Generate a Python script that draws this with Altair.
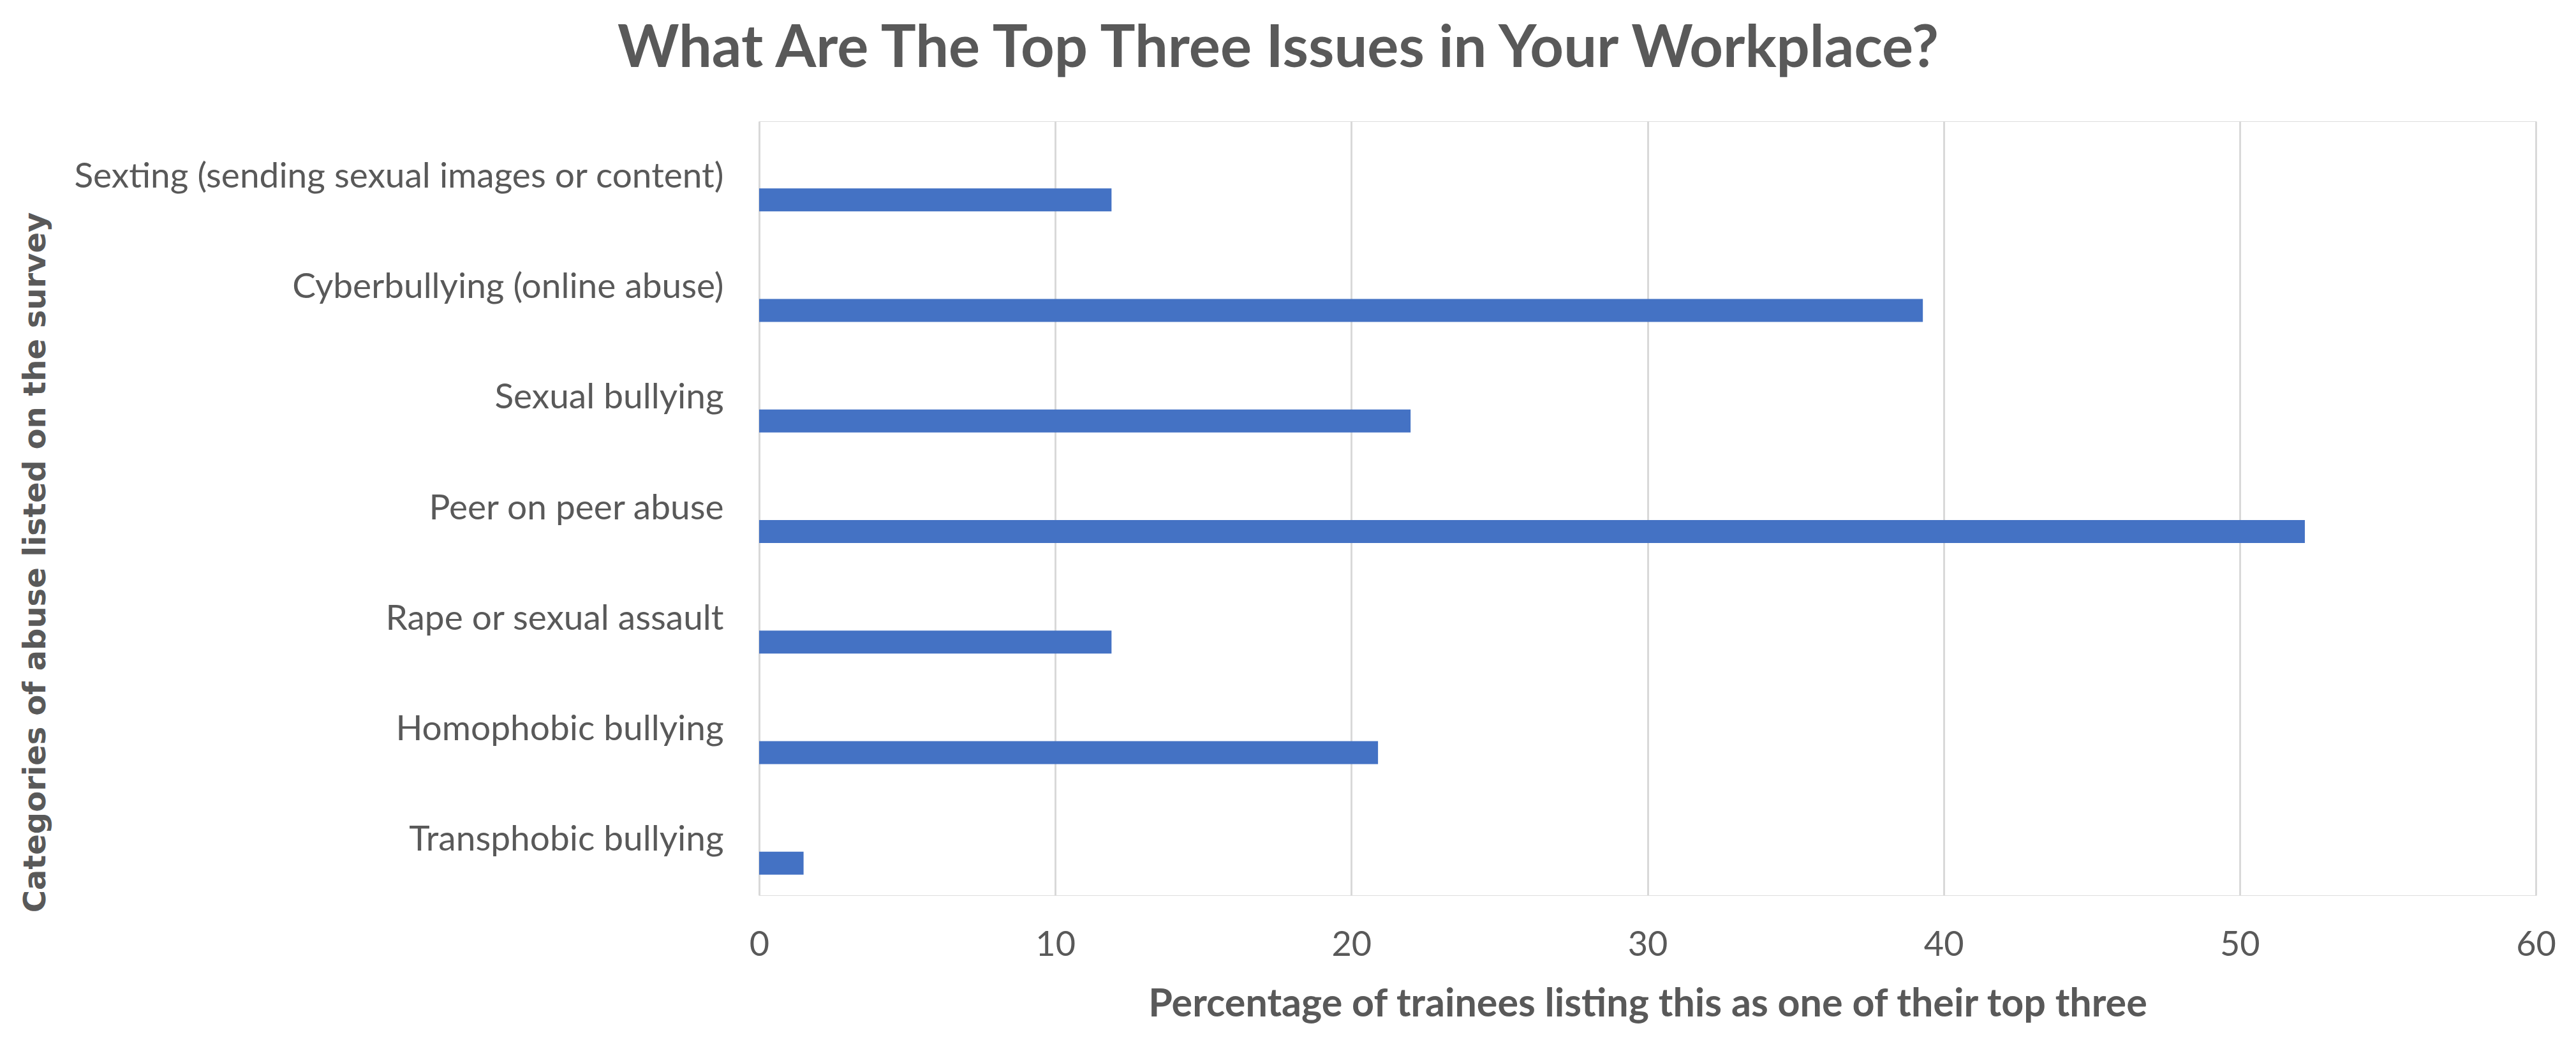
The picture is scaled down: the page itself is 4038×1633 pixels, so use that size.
import altair as alt
import pandas as pd

categories = [
    "Sexting (sending sexual images or content)",
    "Cyberbullying (online abuse)",
    "Sexual bullying",
    "Peer on peer abuse",
    "Rape or sexual assault",
    "Homophobic bullying",
    "Transphobic bullying",
]
values = [11.9, 39.3, 22.0, 52.2, 11.9, 20.9, 1.5]
x_ticks = [0, 10, 20, 30, 40, 50, 60]

df = pd.DataFrame({"category": categories, "value": values})

GREY = "#595959"

chart = (
    alt.Chart(df)
    .mark_bar(size=36, yOffset=36.5, color="#4472C4")
    .encode(
        x=alt.X(
            "value:Q",
            scale=alt.Scale(domain=[0, 60], nice=False, zero=True),
            axis=alt.Axis(
                values=x_ticks,
                title="Percentage of trainees listing this as one of their top three",
                titleFont="Lato",
                titleFontWeight="bold",
                titleFontSize=61,
                titleColor=GREY,
                titleBaseline="alphabetic",
                titleY=189,
                labelFont="Lato",
                labelFontSize=54,
                labelColor=GREY,
                labelBaseline="alphabetic",
                labelPadding=94,
                labelFlush=False,
                grid=True,
                gridColor="#d9d9d9",
                gridWidth=3,
                domain=False,
                ticks=False,
            ),
        ),
        y=alt.Y(
            "category:N",
            sort=categories,
            scale=alt.Scale(paddingInner=0, paddingOuter=0),
            axis=alt.Axis(
                title="Categories of abuse listed on the survey",
                titleFont="DejaVu Sans",
                titleFontWeight="bold",
                titleFontSize=48,
                titleColor=GREY,
                titleAngle=270,
                titleX=-1134,
                titleY=691,
                titleAlign="center",
                titleBaseline="middle",
                labelFont="Lato",
                labelFontSize=55,
                labelColor=GREY,
                labelPadding=56,
                labelLimit=3000,
                grid=False,
                domain=False,
                ticks=False,
            ),
        ),
    )
    .properties(
        width=2785,
        height=1213,
        autosize=alt.AutoSizeParams(type="none"),
        padding={"left": 1182, "top": 182, "right": 55, "bottom": 222},
        title=alt.TitleParams(
            "What Are The Top Three Issues in Your Workplace?",
            font="Lato",
            fontWeight="bold",
            fontSize=92,
            color=GREY,
            anchor="middle",
            dx=-579,
            offset=66,
        ),
    )
    .configure_view(stroke=None)
    .configure(background="white")
)

chart.save("out.html", embed_options={"renderer": "svg", "actions": False})
